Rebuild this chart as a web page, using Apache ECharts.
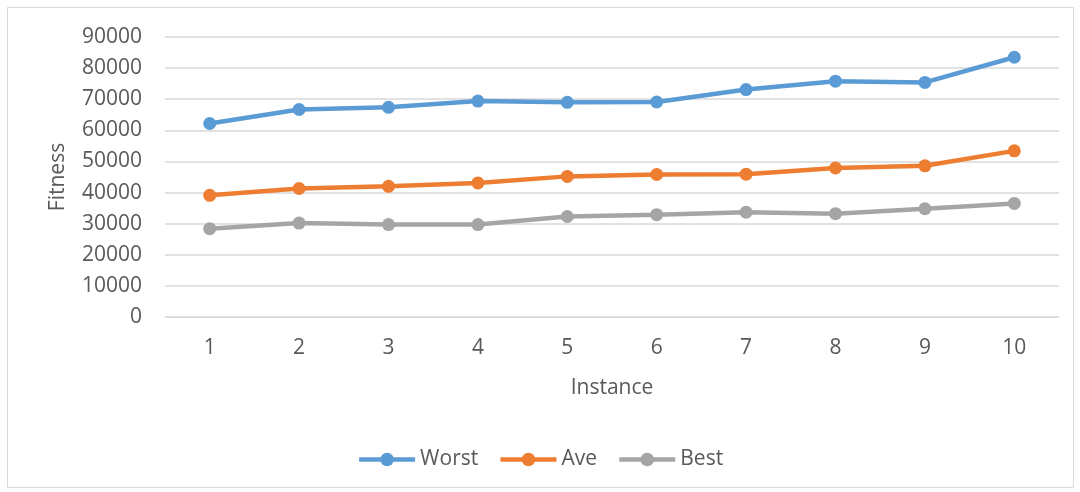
<!DOCTYPE html>
<html>
<head>
<meta charset="utf-8">
<script src="https://cdn.jsdelivr.net/npm/echarts@6/dist/echarts.min.js"></script>
<style>
  html, body { margin: 0; padding: 0; background: #fff; }
  #chart { width: 1080px; height: 492px; }
</style>
</head>
<body>
<div id="chart"></div>
<script>
// Instance numbers along the x axis
const instances = ['1', '2', '3', '4', '5', '6', '7', '8', '9', '10'];

// Fitness per instance
const worst = [62200, 66700, 67400, 69400, 69000, 69100, 73100, 75800, 75400, 83500];
const ave   = [39100, 41300, 42000, 43100, 45200, 45800, 45900, 47900, 48600, 53400];
const best  = [28400, 30200, 29700, 29700, 32300, 32900, 33700, 33200, 34800, 36500];

const textColor = '#595959';
const gridColor = '#D9D9D9';
const font = 'Open Sans, Liberation Sans, sans-serif';
const fontSize = 21;

function lineSeries(name, data, color) {
  return {
    name: name,
    type: 'line',
    data: data,
    symbol: 'circle',
    symbolSize: 13,
    lineStyle: { width: 4.5, color: color },
    itemStyle: { color: color },
    emphasis: { disabled: true },
    animation: false
  };
}

const chart = echarts.init(document.getElementById('chart'), null, { renderer: 'canvas' });
chart.setOption({
  animation: false,
  backgroundColor: '#fff',
  textStyle: { fontFamily: font },
  graphic: [{
    type: 'rect',
    shape: { x: 7.5, y: 7.5, width: 1066, height: 480 },
    style: { fill: null, stroke: '#D9D9D9', lineWidth: 1 },
    silent: true
  }],
  grid: { left: 165, right: 21, top: 37, bottom: 175 },
  legend: {
    bottom: 17,
    left: 'center',
    itemWidth: 56,
    itemHeight: 17,
    itemGap: 20,
    lineStyle: { width: 4.5 },
    textStyle: { color: textColor, fontSize: fontSize, fontFamily: font },
    data: ['Worst', 'Ave', 'Best']
  },
  xAxis: {
    type: 'category',
    data: instances,
    boundaryGap: true,
    name: 'Instance',
    nameLocation: 'middle',
    nameGap: 61,
    nameTextStyle: { color: textColor, fontSize: fontSize, fontFamily: font },
    axisLine: { lineStyle: { color: gridColor, width: 1 } },
    axisTick: { show: false },
    axisLabel: { color: textColor, fontSize: fontSize, margin: 21, fontFamily: font }
  },
  yAxis: {
    type: 'value',
    min: 0,
    max: 90000,
    interval: 10000,
    name: 'Fitness',
    nameLocation: 'middle',
    nameGap: 96,
    nameTextStyle: { color: textColor, fontSize: fontSize, fontFamily: font },
    axisLine: { show: false },
    axisTick: { show: false },
    axisLabel: {
      color: textColor, fontSize: fontSize, margin: 23, fontFamily: font,
      formatter: function (v) { return String(v); }
    },
    splitLine: { lineStyle: { color: gridColor, width: 1.5 } }
  },
  series: [
    lineSeries('Worst', worst, '#5B9BD5'),
    lineSeries('Ave', ave, '#ED7D31'),
    lineSeries('Best', best, '#A5A5A5')
  ]
});
</script>
</body>
</html>
